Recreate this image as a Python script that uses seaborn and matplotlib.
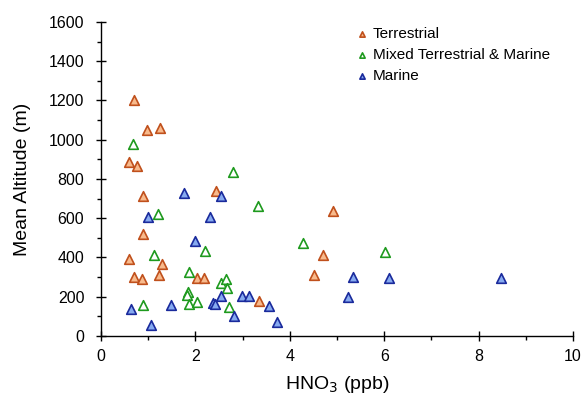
import numpy as np
import pandas as pd
import matplotlib
matplotlib.use("Agg")
import matplotlib.pyplot as plt
from matplotlib.ticker import MultipleLocator
import seaborn as sns

# values
terr_x = [0.70, 0.97, 1.25, 0.59, 0.76, 0.89, 2.44, 0.89, 0.60, 1.30,
          0.69, 0.86, 1.23, 2.03, 2.19, 3.34, 4.92, 4.70, 4.52]
terr_y = [1205, 1050, 1060, 885, 865, 715, 740, 520, 392, 369,
          299, 292, 311, 296, 296, 177, 637, 413, 311]

mixed_x = [0.67, 2.80, 3.33, 1.21, 1.12, 2.20, 1.86, 2.54, 2.65, 2.67,
           1.84, 1.83, 1.86, 2.03, 0.89, 2.72, 4.28, 6.01]
mixed_y = [978, 836, 664, 623, 413, 433, 325, 269, 292, 245,
           223, 209, 165, 175, 157, 148, 474, 427]

marine_x = [1.76, 2.54, 1.00, 2.31, 1.99, 0.64, 1.49, 1.06, 2.37, 2.41,
            2.55, 2.82, 2.99, 3.14, 3.55, 3.72, 5.34, 5.23, 6.10, 8.47]
marine_y = [727, 713, 607, 607, 486, 139, 157, 55, 167, 165,
            206, 100, 202, 202, 153, 71, 302, 198, 294, 294]

groups = ["Terrestrial", "Mixed Terrestrial & Marine", "Marine"]

df = pd.concat([
    pd.DataFrame({"hno3": terr_x, "alt": terr_y, "group": groups[0]}),
    pd.DataFrame({"hno3": mixed_x, "alt": mixed_y, "group": groups[1]}),
    pd.DataFrame({"hno3": marine_x, "alt": marine_y, "group": groups[2]}),
])

STYLE = {
    "Terrestrial": ("#f8ba8c", "#c0501c"),
    "Mixed Terrestrial & Marine": ("white", "#1e9a1e"),
    "Marine": ("#86aaf0", "#1a2a9c"),
}

sns.set_style("ticks")
plt.rcParams["font.family"] = ["Liberation Sans", "DejaVu Sans"]
plt.rcParams.update({"text.color": "black", "axes.labelcolor": "black",
                     "xtick.color": "black", "ytick.color": "black"})

fig = plt.figure(figsize=(5.86, 3.95), dpi=100)
ax = fig.add_axes([0.1724, 0.1494, 0.8054, 0.7949])

for g in groups:
    face, edge = STYLE[g]
    sns.scatterplot(data=df[df["group"] == g], x="hno3", y="alt", ax=ax,
                    marker="^", s=48, color=face, edgecolor=edge,
                    linewidth=1.2, label=g, zorder=3)

ax.set_xlim(0, 10)
ax.set_ylim(0, 1600)
ax.xaxis.set_major_locator(MultipleLocator(2))
ax.xaxis.set_minor_locator(MultipleLocator(1))
ax.yaxis.set_major_locator(MultipleLocator(200))
ax.yaxis.set_minor_locator(MultipleLocator(100))
ax.tick_params(which="major", direction="inout", length=7, width=1,
               labelsize=11.5)
ax.tick_params(which="minor", direction="out", length=3, width=1)
ax.tick_params(axis="x", which="major", pad=6)
ax.tick_params(axis="y", which="major", pad=8.5)
sns.despine(ax=ax)
for s in ["left", "bottom"]:
    ax.spines[s].set_linewidth(1)
    ax.spines[s].set_color("black")

ax.set_xlabel("HNO$_3$ (ppb)", fontsize=14, labelpad=7)
ax.set_ylabel("Mean Altitude (m)", fontsize=14, labelpad=13)

leg = ax.legend(loc="upper left", bbox_to_anchor=(0.594, 0.948),
                bbox_transform=fig.transFigure,
                frameon=False, fontsize=11, markerscale=0.55,
                handlelength=1.0, handletextpad=0.2, labelspacing=0.47,
                borderaxespad=0)

fig.savefig("out.png", dpi=100)
